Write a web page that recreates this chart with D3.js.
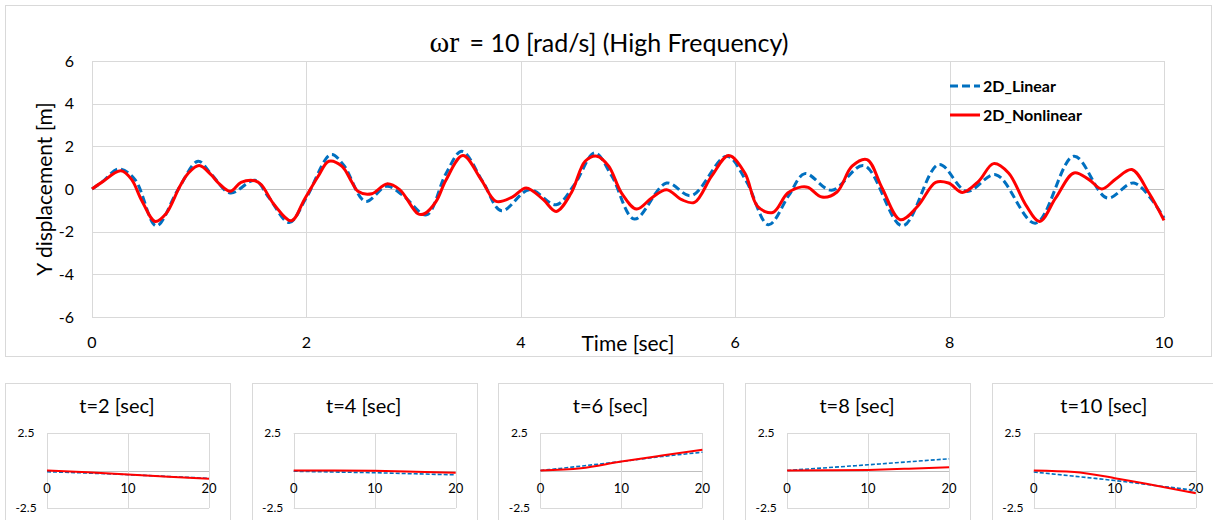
<!DOCTYPE html>
<html>
<head>
<meta charset="utf-8">
<script src="https://cdn.jsdelivr.net/npm/d3@7"></script>
<style>
  body { margin: 0; background: #fff; }
  svg { display: block; font-family: Lato, "Open Sans", sans-serif; }
</style>
</head>
<body>
<svg id="canvas" width="1213" height="520"></svg>
<script>
// main chart (time [sec], Y displacement [m])
const linTime = [0, 0.1, 0.25, 0.4, 0.6, 0.8, 0.99, 1.12, 1.29, 1.52, 1.65, 1.84, 2.0, 2.23, 2.35, 2.55, 2.75, 2.9, 3.12, 3.3, 3.45, 3.65, 3.82, 4.08, 4.33, 4.5, 4.69, 4.85, 5.06, 5.36, 5.59, 5.92, 6.1, 6.31, 6.5, 6.65, 6.9, 7.2, 7.56, 7.9, 8.16, 8.43, 8.8, 9.16, 9.47, 9.72, 10];
const linY = [0, 0.35, 0.94, 0.45, -1.73, -0.05, 1.3, 0.65, -0.19, 0.41, -0.4, -1.57, -0.4, 1.62, 1.1, -0.58, 0.13, -0.3, -1.21, 0.7, 1.77, 0.3, -1.02, -0.03, -0.74, 0.2, 1.69, 0.6, -1.41, 0.28, -0.31, 1.54, 0.4, -1.68, -0.3, 0.72, -0.06, 1.1, -1.73, 1.15, -0.11, 0.67, -1.6, 1.54, -0.42, 0.28, -1.36];

const nonTime = [0, 0.09, 0.27, 0.37, 0.46, 0.59, 0.69, 0.82, 0.9, 1.0, 1.11, 1.18, 1.29, 1.39, 1.52, 1.58, 1.7, 1.86, 1.98, 2.11, 2.21, 2.33, 2.42, 2.48, 2.61, 2.75, 2.87, 3.04, 3.1, 3.21, 3.3, 3.46, 3.63, 3.77, 3.92, 4.05, 4.21, 4.33, 4.47, 4.6, 4.71, 4.82, 4.94, 5.08, 5.22, 5.36, 5.5, 5.62, 5.78, 5.94, 6.09, 6.21, 6.35, 6.49, 6.62, 6.68, 6.81, 6.95, 7.09, 7.23, 7.37, 7.54, 7.7, 7.87, 7.99, 8.12, 8.27, 8.41, 8.55, 8.71, 8.84, 8.99, 9.16, 9.3, 9.42, 9.55, 9.7, 9.86, 10];
const nonY = [0, 0.31, 0.85, 0.44, -0.5, -1.52, -1.16, 0.13, 0.75, 1.1, 0.67, 0.28, -0.11, 0.31, 0.39, 0.2, -0.74, -1.49, -0.5, 0.6, 1.3, 1.07, 0.36, -0.11, -0.22, 0.24, -0.03, -1.16, -1.16, -0.58, 0.4, 1.57, 0.44, -0.58, -0.38, 0.05, -0.5, -1.05, -0.19, 1.3, 1.54, 1.07, -0.19, -0.94, -0.42, -0.03, -0.5, -0.63, 0.6, 1.57, 0.75, -0.82, -1.1, -0.19, 0.1, 0.08, -0.38, -0.14, 1.07, 1.38, 0.05, -1.44, -0.82, 0.31, 0.28, -0.16, 0.36, 1.19, 0.75, -0.74, -1.52, -0.42, 0.75, 0.44, 0, 0.47, 0.91, -0.19, -1.47];

const mainXTicks = [0, 2, 4, 6, 8, 10];
const mainYTicks = [-6, -4, -2, 0, 2, 4, 6];

// small panels: profile along the length at given times
const panelTitles = ['t=2 [sec]', 't=4 [sec]', 't=6 [sec]', 't=8 [sec]', 't=10 [sec]'];
const panelX = [0, 5, 10, 15, 20];
const panelLin = [
	[-0.08, -0.17, -0.28, -0.4, -0.52],
	[-0.05, -0.1, -0.15, -0.22, -0.29],
	[0, 0.29, 0.6, 0.93, 1.22],
	[0, 0.19, 0.38, 0.58, 0.78],
	[-0.1, -0.38, -0.67, -1.0, -1.33]
];
const panelNon = [
	[0, -0.12, -0.27, -0.42, -0.55],
	[0, 0, -0.02, -0.08, -0.15],
	[0, 0.15, 0.6, 1.0, 1.38],
	[0, 0.01, 0.04, 0.12, 0.22],
	[0, -0.1, -0.51, -1.0, -1.51]
];
const panelXTicks = [0, 10, 20];
const panelYTicks = [-2.5, 2.5];

const BLUE = '#0070c0';
const RED = '#ff0000';
const GRID = '#d9d9d9';
const AXIS = '#bfbfbf';

let canvas = d3.select('#canvas');

// ---------- main chart ----------
canvas.append('rect')
	.attr('x', 5.5).attr('y', 5.5)
	.attr('width', 1206).attr('height', 351)
	.attr('fill', '#fff').attr('stroke', GRID);

let x = d3.scaleLinear().domain([0, 10]).range([92, 1164]);
let y = d3.scaleLinear().domain([-6, 6]).range([317, 61]);

let main = canvas.append('g');

main.selectAll('line.hgrid')
	.data(mainYTicks)
	.enter()
	.append('line')
	.attr('class', 'hgrid')
	.attr('x1', x(0)).attr('x2', x(10))
	.attr('y1', (d) => Math.round(y(d)) + 0.5)
	.attr('y2', (d) => Math.round(y(d)) + 0.5)
	.attr('stroke', (d) => (d === 0 ? AXIS : GRID));

main.selectAll('line.vgrid')
	.data(mainXTicks)
	.enter()
	.append('line')
	.attr('class', 'vgrid')
	.attr('x1', (d) => Math.round(x(d)) + 0.5)
	.attr('x2', (d) => Math.round(x(d)) + 0.5)
	.attr('y1', y(6)).attr('y2', y(-6))
	.attr('stroke', GRID);

main.selectAll('text.ytick')
	.data(mainYTicks)
	.enter()
	.append('text')
	.attr('class', 'ytick')
	.attr('x', 74)
	.attr('y', (d) => y(d))
	.attr('dy', '0.35em')
	.attr('text-anchor', 'end')
	.attr('font-size', 16)
	.attr('fill', '#000')
	.text((d) => d);

main.selectAll('text.xtick')
	.data(mainXTicks)
	.enter()
	.append('text')
	.attr('class', 'xtick')
	.attr('x', (d) => x(d))
	.attr('y', 342)
	.attr('dy', '0.35em')
	.attr('text-anchor', 'middle')
	.attr('font-size', 16)
	.attr('fill', '#000')
	.text((d) => d);

let line = d3.line()
	.x((d) => x(d[0]))
	.y((d) => y(d[1]))
	.curve(d3.curveCatmullRom.alpha(0.5));

main.append('path')
	.datum(linTime.map((t, i) => [t, linY[i]]))
	.attr('d', line)
	.attr('fill', 'none')
	.attr('stroke', BLUE)
	.attr('stroke-width', 3)
	.attr('stroke-dasharray', '8,4');

main.append('path')
	.datum(nonTime.map((t, i) => [t, nonY[i]]))
	.attr('d', line)
	.attr('fill', 'none')
	.attr('stroke', RED)
	.attr('stroke-width', 3);

// title
let title = main.append('text')
	.attr('x', 609)
	.attr('y', 52)
	.attr('text-anchor', 'middle')
	.attr('fill', '#000');
title.append('tspan')
	.attr('font-family', '"Liberation Serif", "DejaVu Serif", serif')
	.attr('font-size', 30)
	.text('ωr');
title.append('tspan')
	.attr('font-size', 25)
	.attr('dx', 4)
	.text('  = 10 [rad/s] (High Frequency)');

// axis titles
main.append('text')
	.attr('transform', 'translate(52,189) rotate(-90)')
	.attr('text-anchor', 'middle')
	.attr('font-size', 21)
	.attr('fill', '#000')
	.text('Y displacement [m]');

main.append('text')
	.attr('x', 628)
	.attr('y', 351)
	.attr('text-anchor', 'middle')
	.attr('font-size', 21)
	.attr('fill', '#000')
	.text('Time [sec]');

// legend
const legendItems = [
	{ name: '2D_Linear', color: BLUE, dash: '8,4', cy: 86 },
	{ name: '2D_Nonlinear', color: RED, dash: null, cy: 115 }
];
let legend = main.selectAll('g.legend')
	.data(legendItems)
	.enter()
	.append('g')
	.attr('class', 'legend');
legend.append('line')
	.attr('x1', 950).attr('x2', 980)
	.attr('y1', (d) => d.cy).attr('y2', (d) => d.cy)
	.attr('stroke', (d) => d.color)
	.attr('stroke-width', 3)
	.attr('stroke-dasharray', (d) => d.dash);
legend.append('text')
	.attr('x', 983)
	.attr('y', (d) => d.cy)
	.attr('dy', '0.35em')
	.attr('font-size', 16)
	.attr('font-weight', 'bold')
	.attr('fill', '#000')
	.text((d) => d.name);

// ---------- small panels ----------
const panelStep = 246.7;
panelTitles.forEach((name, i) => {
	let left = 5 + i * panelStep;
	let g = canvas.append('g');

	g.append('rect')
		.attr('x', Math.round(left) + 0.5).attr('y', 383.5)
		.attr('width', 225).attr('height', 160)
		.attr('fill', '#fff').attr('stroke', GRID);

	let px = d3.scaleLinear().domain([0, 20]).range([left + 42, left + 204]);
	let py = d3.scaleLinear().domain([-2.5, 2.5]).range([508, 433]);

	g.selectAll('line.hgrid')
		.data([-2.5, 0, 2.5])
		.enter()
		.append('line')
		.attr('x1', px(0)).attr('x2', px(20))
		.attr('y1', (d) => Math.round(py(d)) + 0.5)
		.attr('y2', (d) => Math.round(py(d)) + 0.5)
		.attr('stroke', (d) => (d === 0 ? AXIS : GRID));

	g.selectAll('line.vgrid')
		.data(panelXTicks)
		.enter()
		.append('line')
		.attr('x1', (d) => Math.round(px(d)) + 0.5)
		.attr('x2', (d) => Math.round(px(d)) + 0.5)
		.attr('y1', py(2.5)).attr('y2', py(-2.5))
		.attr('stroke', GRID);

	g.selectAll('text.ytick')
		.data(panelYTicks)
		.enter()
		.append('text')
		.attr('x', left + 21)
		.attr('y', (d) => py(d))
		.attr('dy', '0.35em')
		.attr('text-anchor', 'middle')
		.attr('font-size', 12)
		.attr('fill', '#000')
		.text((d) => d);

	g.selectAll('text.xtick')
		.data(panelXTicks)
		.enter()
		.append('text')
		.attr('x', (d) => px(d))
		.attr('y', 488)
		.attr('dy', '0.35em')
		.attr('text-anchor', 'middle')
		.attr('font-size', 13)
		.attr('fill', '#000')
		.text((d) => d);

	let pline = d3.line()
		.x((d) => px(d[0]))
		.y((d) => py(d[1]))
		.curve(d3.curveMonotoneX);

	g.append('path')
		.datum(panelX.map((v, k) => [v, panelLin[i][k]]))
		.attr('d', pline)
		.attr('fill', 'none')
		.attr('stroke', BLUE)
		.attr('stroke-width', 1.6)
		.attr('stroke-dasharray', '4,2');

	g.append('path')
		.datum(panelX.map((v, k) => [v, panelNon[i][k]]))
		.attr('d', pline)
		.attr('fill', 'none')
		.attr('stroke', RED)
		.attr('stroke-width', 2);

	g.append('text')
		.attr('x', left + 112)
		.attr('y', 413)
		.attr('text-anchor', 'middle')
		.attr('font-size', 20)
		.attr('fill', '#000')
		.text(name);
});
</script>
</body>
</html>
